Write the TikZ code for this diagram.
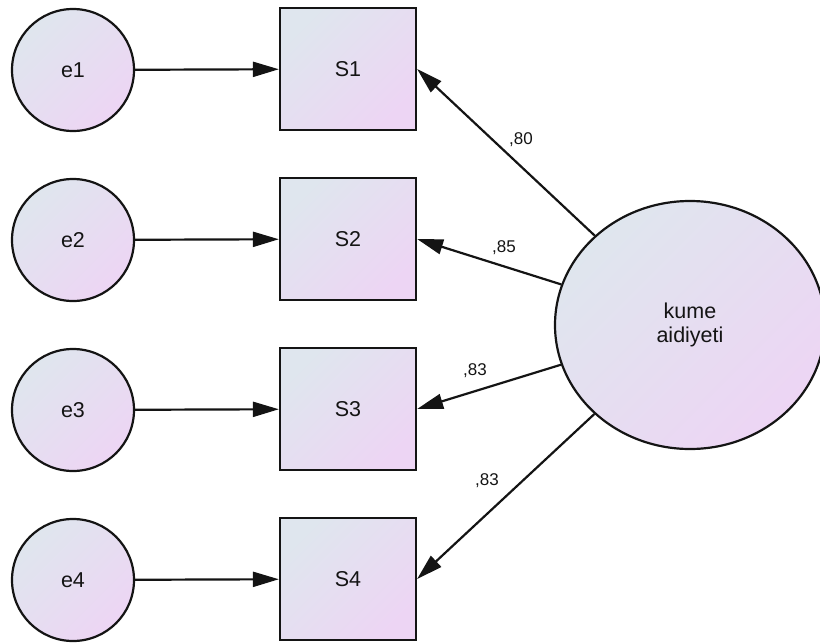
\documentclass[tikz,border=0pt]{standalone}
\usepackage{fontspec}
\setmainfont{Liberation Sans}
\usetikzlibrary{arrows.meta,shapes.geometric}
\definecolor{fillA}{RGB}{223,230,238}
\definecolor{fillB}{RGB}{237,213,244}
\definecolor{ink}{RGB}{20,20,20}
\tikzset{
  gradfill/.style={shade, shading=axis, top color=fillA, bottom color=fillB, shading angle=45},
  errnode/.style={circle, draw=ink, line width=2.2pt, gradfill, minimum size=122pt, inner sep=0pt,
    font=\fontsize{21.5}{24}\selectfont, text=ink},
  obsnode/.style={rectangle, draw=ink, line width=2.2pt, gradfill, minimum width=136pt, minimum height=122pt,
    inner sep=0pt, font=\fontsize{21.5}{24}\selectfont, text=ink},
  latnode/.style={ellipse, draw=ink, line width=2.2pt, gradfill, minimum width=270pt, minimum height=248pt,
    inner sep=0pt, align=center, font=\fontsize{21.5}{24}\selectfont, text=ink},
  path/.style={draw=ink, line width=2.2pt, -{Triangle[length=26pt,width=15pt]}},
  coef/.style={font=\fontsize{17}{19}\selectfont, text=ink, inner sep=0pt}
}
\begin{document}
\begin{tikzpicture}[x=1pt,y=-1pt]
\useasboundingbox (0,0) rectangle (820,643);
% error terms
\node[errnode] (e1) at (73,70) {e1};
\node[errnode] (e2) at (73,240) {e2};
\node[errnode] (e3) at (73,410) {e3};
\node[errnode] (e4) at (73,580) {e4};
% observed items
\node[obsnode] (s1) at (348,69) {S1};
\node[obsnode] (s2) at (348,239) {S2};
\node[obsnode] (s3) at (348,409) {S3};
\node[obsnode] (s4) at (348,579) {S4};
% latent factor
\node[latnode] (k) at (690,325) {kume\\aidiyeti};
% error paths
\draw[path] (e1) -- (s1);
\draw[path] (e2) -- (s2);
\draw[path] (e3) -- (s3);
\draw[path] (e4) -- (s4);
% factor loadings
\draw[path] (k) -- (s1.east);
\draw[path] (k) -- (s2.east);
\draw[path] (k) -- (s3.east);
\draw[path] (k) -- (s4.east);
\node[coef] (c1) at (521,140) {,80};
\node[coef] (c2) at (504,248) {,85};
\node[coef] (c3) at (475,371) {,83};
\node[coef] (c4) at (487,481) {,83};
\end{tikzpicture}
\end{document}
